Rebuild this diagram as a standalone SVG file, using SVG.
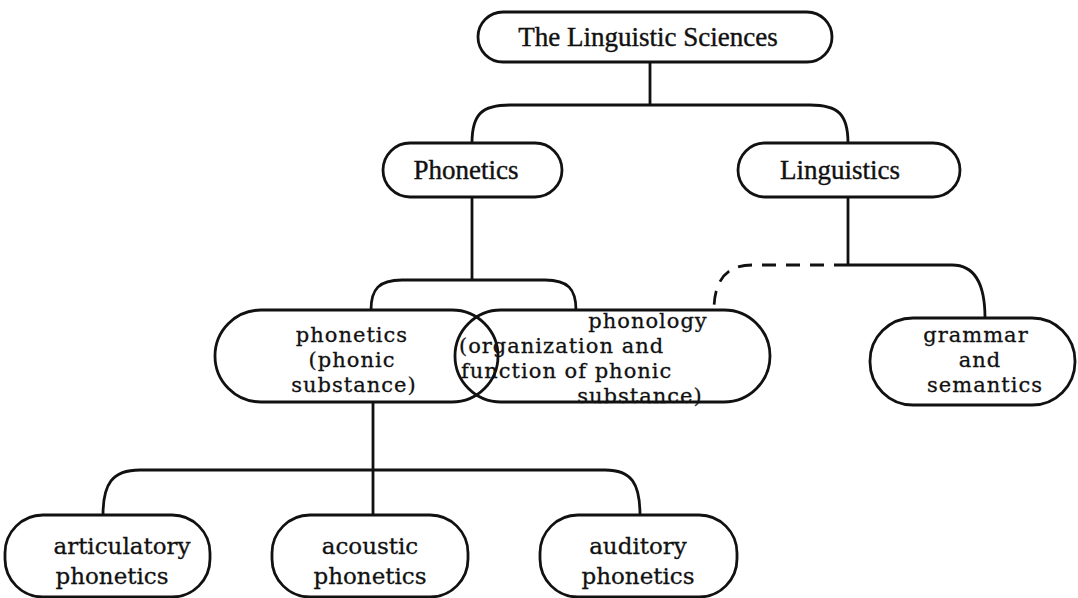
<svg xmlns="http://www.w3.org/2000/svg" width="1078" height="598" viewBox="0 0 1078 598">
<style>
.box{fill:none;stroke:#111;stroke-width:2.8}
.ln{fill:none;stroke:#111;stroke-width:2.8}
.dash{fill:none;stroke:#111;stroke-width:2.8;stroke-dasharray:14 10}
.t1{font-family:"Liberation Serif",serif;font-size:27px;fill:#111;stroke:#111;stroke-width:0.4;text-anchor:middle}
.t2{font-family:"DejaVu Serif","Liberation Serif",serif;font-size:21px;letter-spacing:1px;fill:#111;stroke:#111;stroke-width:0.3;text-anchor:middle}
.t3{font-family:"DejaVu Serif","Liberation Serif",serif;font-size:23px;fill:#111;stroke:#111;stroke-width:0.3;text-anchor:middle}
.l{text-anchor:start}
</style>
<rect width="1078" height="598" fill="#fff"/>
<g id="connectors">
<path class="ln" d="M650,62 L650,105"/>
<path class="ln" d="M472,143 C472,114 482,105 510,105 L810,105 C838,105 848,114 848,143"/>
<path class="ln" d="M472,197 L472,280"/>
<path class="ln" d="M371,310 C371,289 379,280 402,280 L545,280 C568,280 576,289 576,310"/>
<path class="ln" d="M848,197 L848,265"/>
<path class="dash" d="M848,265 L752,265 C727,265 714,280 714,310"/>
<path class="ln" d="M848,265 L952,265 C976,265 985,285 985,318"/>
<path class="ln" d="M373,402 L373,515"/>
<path class="ln" d="M103,515 C103,484 112,470 140,470 L605,470 C632,470 640,484 640,515"/>
</g>
<g id="n-top"><rect class="box" x="478" y="12" width="354" height="50" rx="25"/><text class="t1" x="648" y="46">The Linguistic Sciences</text></g>
<g id="n-phonetics"><rect class="box" x="383" y="143" width="179" height="54" rx="27"/><text class="t1" x="466" y="179">Phonetics</text></g>
<g id="n-linguistics"><rect class="box" x="738" y="143" width="222" height="54" rx="27"/><text class="t1" x="840" y="179">Linguistics</text></g>
<g id="n-phon-sub"><rect class="box" x="215" y="310" width="283" height="92" rx="46"/><text class="t2" x="352" y="342">phonetics</text><text class="t2" x="352" y="367">(phonic</text><text class="t2" x="354" y="392">substance)</text></g>
<g id="n-phonology"><rect class="box" x="455" y="310" width="315" height="92" rx="46"/><text class="t2" x="648" y="328">phonology</text><text class="t2 l" x="459" y="353">(organization and</text><text class="t2 l" x="461" y="378">function of phonic</text><text class="t2" x="640" y="403">substance)</text></g>
<g id="n-grammar"><rect class="box" x="870" y="318" width="205" height="87" rx="43"/><text class="t2" x="976" y="342">grammar</text><text class="t2" x="980" y="367">and</text><text class="t2" x="985" y="392">semantics</text></g>
<g id="n-articulatory"><rect class="box" x="5" y="515" width="205" height="82" rx="38"/><text class="t3" x="122" y="554">articulatory</text><text class="t3" x="112" y="584">phonetics</text></g>
<g id="n-acoustic"><rect class="box" x="272" y="515" width="196" height="82" rx="38"/><text class="t3" x="370" y="554">acoustic</text><text class="t3" x="370" y="584">phonetics</text></g>
<g id="n-auditory"><rect class="box" x="540" y="515" width="197" height="82" rx="38"/><text class="t3" x="638" y="554">auditory</text><text class="t3" x="638" y="584">phonetics</text></g>
</svg>
